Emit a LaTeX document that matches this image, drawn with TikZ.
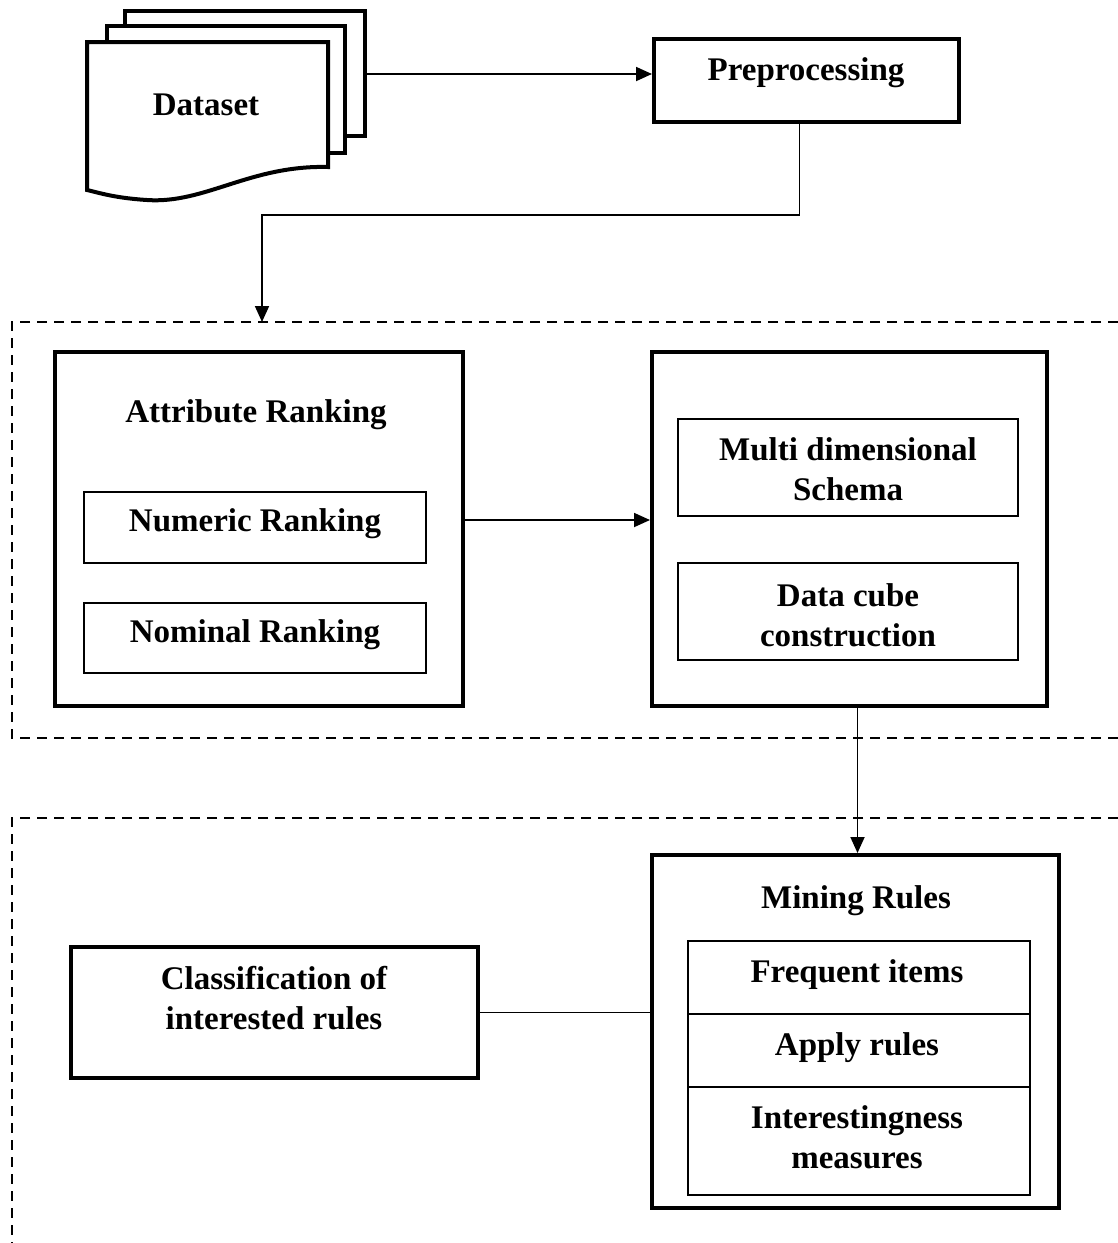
\documentclass[tikz,border=0pt]{standalone}
\usepackage{fontspec}
\setmainfont{Liberation Serif}
\usetikzlibrary{arrows.meta,calc}
\begin{document}
\begin{tikzpicture}[x=1pt,y=-1pt,
  thickbox/.style={draw,line width=4pt,fill=white,inner sep=0pt},
  thinbox/.style={draw,line width=1.8pt,fill=white,inner sep=0pt},
  lbl/.style={font=\fontsize{33}{40}\selectfont\bfseries,align=center,anchor=base,inner sep=0pt},
  arr/.style={line width=1.8pt,-{Triangle[length=16pt,width=14pt]}},
  conn/.style={line width=1.8pt},
  dbox/.style={line width=2pt,dash pattern=on 10pt off 7pt}]
\useasboundingbox (0,0) rectangle (1118,1243);
% dashed groups
\draw[dbox] (1118,322) -- (12,322) -- (12,738) -- (1118,738);
\draw[dbox] (1118,818) -- (12,818) -- (12,1243);
% dataset stack
\draw[line width=4pt,fill=white] (125,11) rectangle (365,136);
\draw[line width=4pt,fill=white] (107,26) rectangle (345,153);
\draw[line width=4pt,fill=white] (87,42) -- (328,42) -- (328,167)
  .. controls (250,165) and (205,204) .. (147,200)
  .. controls (115,198) and (100,193) .. (87,190) -- cycle;
\node[lbl] (dstxt) at (206,115) {Dataset};
\coordinate (dsr) at (367,74);
% preprocessing
\node[thickbox,minimum width=305,minimum height=83] (pre) at (806.5,80.5) {};
\node[lbl] (pretxt) at (806,80) {Preprocessing};
\draw[arr] (dsr) -- (dsr -| pre.west);
\coordinate (p1) at ($(pre.south)+(-7,0)$);
\coordinate (bend) at (262,215);
\coordinate (d1) at (262,322);
\draw[arr] (p1) |- (bend) -- (d1);
% attribute ranking
\node[thickbox,minimum width=408,minimum height=354] (ar) at (259,529) {};
\node[lbl] (artxt) at (256,422) {Attribute Ranking};
\node[thinbox,minimum width=342,minimum height=71] (num) at (255,527.5) {};
\node[lbl] (numtxt) at (255,531) {Numeric Ranking};
\node[thinbox,minimum width=342,minimum height=70] (nom) at (255,638) {};
\node[lbl] (nomtxt) at (255,642) {Nominal Ranking};
% right box
\node[thickbox,minimum width=395,minimum height=354] (rb) at (849.5,529) {};
\node[thinbox,minimum width=340,minimum height=97] (mds) at (848,467.5) {};
\node[lbl] (mdstxt) at (848,500) {Multi dimensional\\Schema};
\node[thinbox,minimum width=340,minimum height=97] (dcc) at (848,611.5) {};
\node[lbl] (dcctxt) at (848,646) {Data cube\\construction};
\draw[arr] ($(ar.east)+(0,-9)$) -- ($(rb.west)+(0,-9)$);
% mining rules
\node[thickbox,minimum width=407,minimum height=353] (mr) at (855.5,1031.5) {};
\node[lbl] (mrtxt) at (856,908) {Mining Rules};
\node[thinbox,minimum width=342,minimum height=73] (fi) at (859,977.5) {};
\node[lbl] (fitxt) at (857,982) {Frequent items};
\node[thinbox,minimum width=342,minimum height=73] (ap) at (859,1050.5) {};
\node[lbl] (aptxt) at (857,1055) {Apply rules};
\node[thinbox,minimum width=342,minimum height=108] (im) at (859,1141) {};
\node[lbl] (imtxt) at (857,1168) {Interestingness\\measures};
\coordinate (c1) at ($(rb.south)+(8,0)$);
\draw[arr] (c1) -- (c1 |- mr.north);
% classification
\node[thickbox,minimum width=407,minimum height=131] (cl) at (274.5,1012.5) {};
\node[lbl] (cltxt) at (274,1029) {Classification of\\interested rules};
\draw[conn] (cl.east) -- (cl.east -| mr.west);
\end{tikzpicture}
\end{document}
